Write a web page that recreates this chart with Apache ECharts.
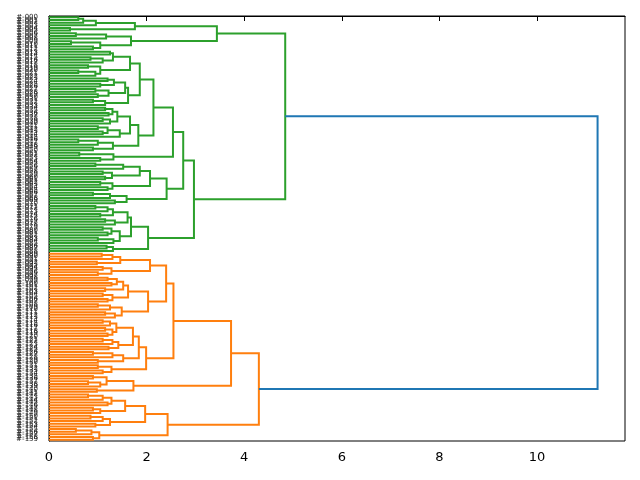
<!DOCTYPE html>
<html>
<head>
<meta charset="utf-8">
<script src="https://cdn.jsdelivr.net/npm/echarts@6/dist/echarts.min.js"></script>
<style>
  html, body { margin: 0; padding: 0; background: #fff; }
  #chart { width: 640px; height: 480px; }
</style>
</head>
<body>
<div id="chart"></div>
<script>
// a leaf of the tree
const L = 0;

// merge heights, each node is [height, upper child, lower child]
// green cluster
const g1 = [3.44,
  [1.76, [0.96, [0.70, [0.60, L, L], L], L], [0.43, L, L]],
  [1.68, [1.17, [0.55, L, L], L], [1.05, [0.45, L, L], [0.90, L, L]]]];
const a1 = [1.66, [1.31, [1.25, L, L], [1.10, [0.85, L, L], L]], [1.05, [0.80, L, L], [0.95, [0.60, L, L], L]]];
const a2 = [1.62, [1.56, [1.33, [1.20, L, L], [1.05, L, L]], [1.22, [0.95, L, L], [1.00, L, L]]], [1.15, [0.90, L, L], L]];
const b1 = [1.66, [1.40, [1.30, [1.15, L, L], [1.22, L, L]], [1.25, [1.10, L, L], L]], [1.45, [1.20, [1.00, L, L], [1.10, L, L]], L]];
const b2 = [1.31, [1.00, [0.60, L, L], L], [0.90, L, L]];
const g113 = [1.32, [0.62, L, L], [1.05, L, L]];
const g150 = [2.07, [1.86, [1.52, [0.95, L, L], L], [1.29, [1.10, L, L], [1.15, L, L]]], [1.30, [1.05, L, L], [1.20, L, L]]];
const g126 = [1.59, [1.25, [0.90, L, L], L], [1.35, L, L]];
const c1a = [1.61, [1.31, [1.20, [0.95, L, L], L], [1.05, L, L]], [1.35, [1.15, L, L], L]];
const c1b = [1.45, [1.28, [1.10, L, L], [1.20, L, L]], [1.32, [1.00, L, L], L]];
const c2 = [1.31, [1.18, L, L], L];
const green = [4.84, g1, [2.97,
  [2.75, [2.54, [2.14, [1.86, a1, a2], [1.83, b1, b2]], g113], [2.41, g150, g126]],
  [2.03, [1.68, c1a, c1b], c2]]];

// orange cluster
const o150 = [2.07, [1.46, [1.30, [1.08, L, L], L], [0.98, L, L]], [1.28, [1.10, L, L], [1.00, L, L]]];
const p1 = [1.62, [1.52, [1.39, [1.20, L, L], [1.28, L, L]], [1.15, L, L]], [1.30, [1.10, L, L], [1.20, L, L]]];
const p2 = [1.49, [1.25, [1.00, L, L], L], [1.35, [1.15, L, L], L]];
const q1 = [1.72, [1.38, [1.25, [1.10, L, L], L], [1.30, [1.15, L, L], [1.20, L, L]]], [1.42, [1.30, [1.10, L, L], L], [1.22, L, L]]];
const q2 = [1.52, [1.30, [0.90, L, L], L], [1.00, L, L]];
const o128 = [1.28, [1.00, L, L], [1.10, L, L]];
const o133 = [1.73, [1.18, [0.90, L, L], [1.05, [0.80, L, L], L]], [0.98, L, L]];
const o125 = [1.56, [1.28, [1.10, [0.80, L, L], L], [1.20, L, L]], [1.05, [0.90, L, L], L]];
const o110 = [1.25, [1.10, [0.85, L, L], L], [0.95, L, L]];
const o103 = [1.03, [0.87, [0.55, L, L], L], [0.90, L, L]];
const orange = [4.30,
  [3.73, [2.55, [2.40, o150, [2.03, p1, p2]], [1.99, [1.84, q1, q2], o128]], o133],
  [2.43, [1.97, o125, o110], o103]];

const root = [11.24, green, orange];

const xTicks = [0, 2, 4, 6, 8, 10];
const clusterColors = ['#2ca02c', '#ff7f0e'];
const aboveColor = '#1f77b4';

// walk the tree: leaves sit at 5, 15, 25 ... and every merge becomes one U shaped link
const links = [];
const labels = [];
const threshold = 0.7 * root[0];
let clusterNo = 0;

function place(node, color) {
  if (node === L) {
    const y = 5 + 10 * labels.length;
    labels.push('#-' + String(labels.length).padStart(3, '0'));
    return { y: y, h: 0 };
  }
  const h = node[0];
  let c = color;
  if (!c && h < threshold) c = clusterColors[clusterNo++];
  const a = place(node[1], c);
  const b = place(node[2], c);
  links.push({
    coords: [[a.h, a.y], [h, a.y], [h, b.y], [b.h, b.y]],
    lineStyle: { color: c || aboveColor }
  });
  return { y: (a.y + b.y) / 2, h: h };
}
place(root, null);

const chart = echarts.init(document.getElementById('chart'));
chart.setOption({
  animation: false,
  grid: {
    left: 49, right: 15, top: 16, bottom: 39,
    outerBoundsMode: 'none', containLabel: false,
    show: true, borderColor: '#000', borderWidth: 1
  },
  xAxis: {
    type: 'value', min: 0, max: root[0] * 1.05,
    splitLine: { show: false },
    axisLine: { lineStyle: { color: '#000', width: 1 } },
    axisTick: { length: 5, customValues: xTicks, lineStyle: { color: '#000' } },
    axisLabel: { customValues: xTicks, color: '#000', fontSize: 13, fontFamily: 'DejaVu Sans', margin: 10 }
  },
  yAxis: [
    { type: 'value', position: 'right', min: 0, max: 10 * labels.length, inverse: true, show: false },
    {
      type: 'category', position: 'left', data: labels, inverse: true,
      axisLine: { lineStyle: { color: '#000', width: 1 } },
      axisTick: { show: false },
      axisLabel: { interval: 0, fontSize: 7, color: '#222', fontFamily: 'DejaVu Sans', margin: 11 }
    }
  ],
  series: [{
    type: 'lines',
    coordinateSystem: 'cartesian2d',
    xAxisIndex: 0,
    yAxisIndex: 0,
    polyline: true,
    silent: true,
    lineStyle: { width: 2, opacity: 1 },
    data: links
  }]
});
</script>
</body>
</html>
